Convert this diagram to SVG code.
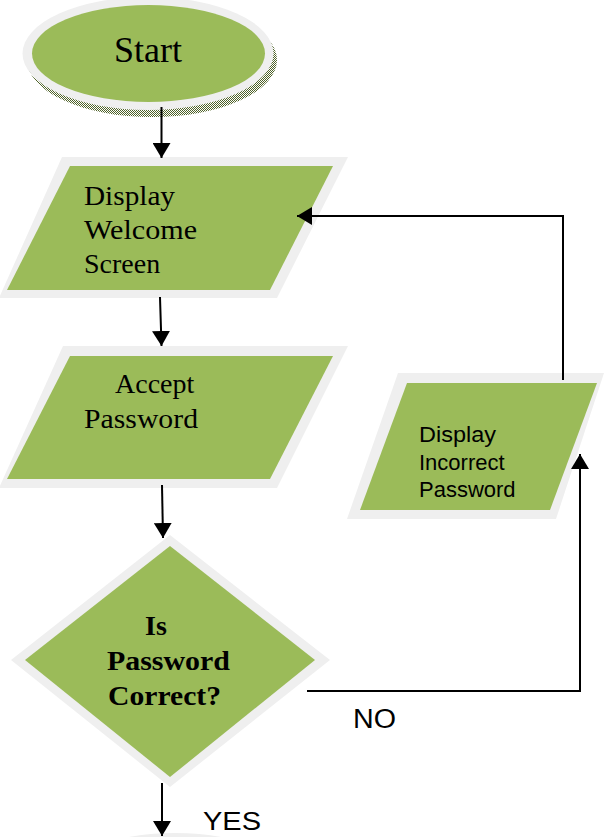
<svg xmlns="http://www.w3.org/2000/svg" width="604" height="837" viewBox="0 0 604 837">
<style>
.rim{fill:#efefef;}
.fill{fill:#9bbb59;}
.serif{font-family:"Liberation Serif","Times New Roman",serif;fill:#000;}
.sans{font-family:"Liberation Sans",Arial,sans-serif;fill:#000;}
.conn{fill:none;stroke:#000;stroke-width:2;}
</style>
<defs>
<pattern id="dither" width="2" height="2" patternUnits="userSpaceOnUse">
<rect width="2" height="2" fill="#ffffff"/>
<rect width="1" height="1" fill="#4f6228"/>
<rect x="1" y="1" width="1" height="1" fill="#4f6228"/>
</pattern>
<marker id="arrow" markerUnits="userSpaceOnUse" markerWidth="16" markerHeight="18" refX="15" refY="9" orient="auto">
<path d="M0,0 L15,9 L0,18 z" fill="#000"/>
</marker>
</defs>

<g id="end-partial">
<ellipse class="rim" cx="175" cy="890" rx="125" ry="57"/>
</g>

<g id="start">
<ellipse cx="152" cy="60" rx="125" ry="57" fill="url(#dither)"/>
<ellipse class="rim" cx="148" cy="53.5" rx="125.5" ry="56.5"/>
<ellipse class="fill" cx="148.5" cy="53.5" rx="116.5" ry="48.5"/>
<text class="serif" x="148" y="62" font-size="36" text-anchor="middle">Start</text>
</g>

<g id="display-welcome">
<polygon class="rim" points="62,157 348,157 277,298 -1,298"/>
<polygon class="fill" points="70,166 333,166 270,290 7,290"/>
<text class="serif" font-size="28">
<tspan x="84" y="205" textLength="91" lengthAdjust="spacingAndGlyphs">Display</tspan>
<tspan x="84" y="239" textLength="113" lengthAdjust="spacingAndGlyphs">Welcome</tspan>
<tspan x="84" y="273">Screen</tspan>
</text>
</g>

<g id="accept-password">
<polygon class="rim" points="63,346 348,346 277,488 -1,488"/>
<polygon class="fill" points="70,356 333,356 270,479 7,479"/>
<text class="serif" font-size="28">
<tspan x="115" y="393">Accept</tspan>
<tspan x="84" y="428" textLength="114" lengthAdjust="spacingAndGlyphs">Password</tspan>
</text>
</g>

<g id="display-incorrect">
<polygon class="rim" points="398,373 604,373 556,519 347,519"/>
<polygon class="fill" points="407,383 597,383 550,510 360,510"/>
<text class="sans" font-size="22">
<tspan x="419" y="442" textLength="77" lengthAdjust="spacingAndGlyphs">Display</tspan>
<tspan x="419" y="470">Incorrect</tspan>
<tspan x="419" y="497">Password</tspan>
</text>
</g>

<g id="decision">
<polygon class="rim" points="170,535 330,660 170,787 11,660"/>
<polygon class="fill" points="170,546 315,660 170,777 25,660"/>
<text class="serif" font-size="28" font-weight="bold">
<tspan x="145" y="635">Is</tspan>
<tspan x="107" y="670" textLength="123" lengthAdjust="spacingAndGlyphs">Password</tspan>
<tspan x="108" y="705" textLength="113" lengthAdjust="spacingAndGlyphs">Correct?</tspan>
</text>
</g>

<g id="connectors">
<line class="conn" x1="161.5" y1="107" x2="161.5" y2="158" marker-end="url(#arrow)"/>
<line class="conn" x1="160" y1="297" x2="161.5" y2="346" marker-end="url(#arrow)"/>
<line class="conn" x1="162" y1="485" x2="163" y2="538" marker-end="url(#arrow)"/>
<line class="conn" x1="162" y1="783" x2="162" y2="836" marker-end="url(#arrow)"/>
<polyline class="conn" points="307,691 580,691 580,454" marker-end="url(#arrow)"/>
<polyline class="conn" points="563,380 563,216 297,216" marker-end="url(#arrow)"/>
<text class="sans" x="353" y="728" font-size="27" textLength="43" lengthAdjust="spacingAndGlyphs">NO</text>
<text class="sans" x="203" y="830" font-size="25" textLength="58" lengthAdjust="spacingAndGlyphs">YES</text>
</g>
</svg>
